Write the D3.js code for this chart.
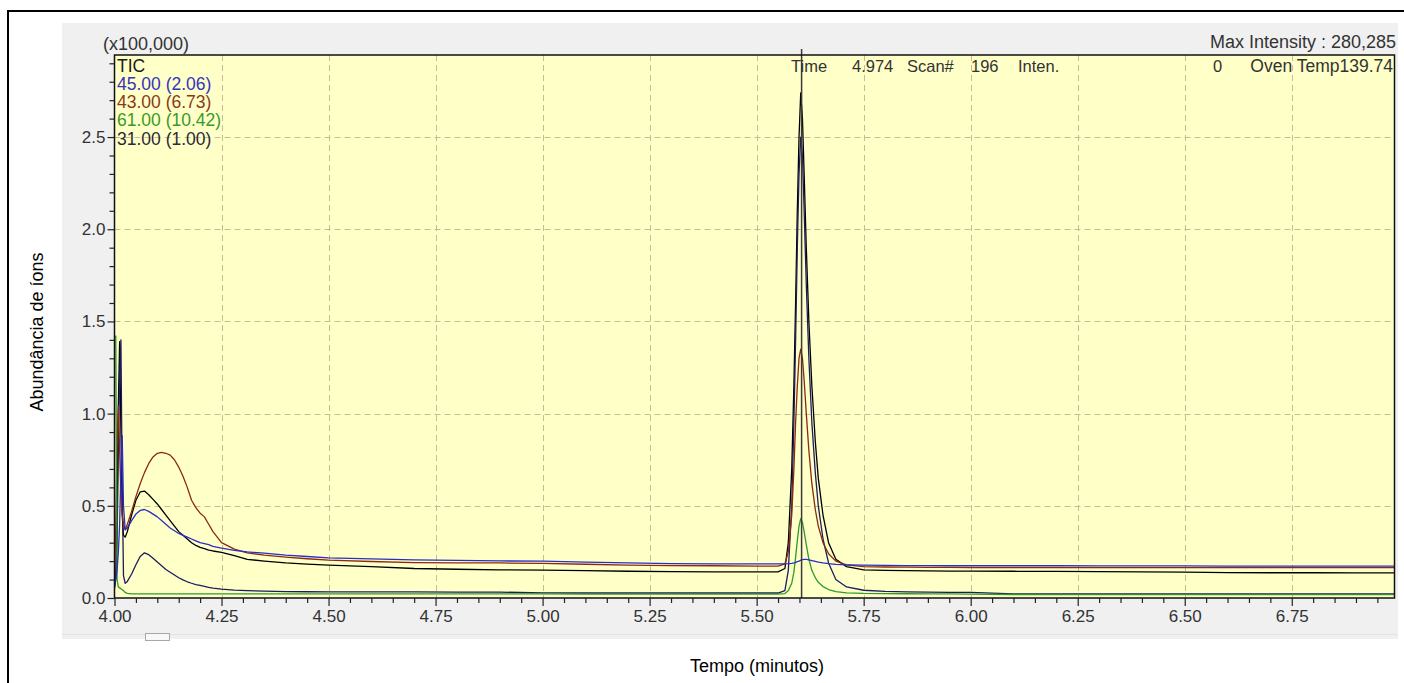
<!DOCTYPE html>
<html>
<head>
<meta charset="utf-8">
<script src="https://cdn.jsdelivr.net/npm/d3@7"></script>
<style>
  html, body { margin: 0; padding: 0; background: #ffffff; }
  svg { display: block; }
  text { font-family: "Liberation Sans", Arial, sans-serif; }
</style>
</head>
<body>
<svg id="chart" width="1404" height="683"></svg>
<script>
// Retention times (min) shared by every trace
const times = [
  4.000, 4.003, 4.006, 4.009, 4.012, 4.015, 4.018, 4.021, 4.025, 4.03,
  4.04, 4.05, 4.06, 4.07, 4.08, 4.09, 4.10, 4.11, 4.12, 4.13,
  4.14, 4.15, 4.16, 4.17, 4.18, 4.19, 4.20, 4.21, 4.22, 4.23,
  4.25, 4.28, 4.31, 4.35, 4.40, 4.45, 4.50, 4.60, 4.70, 4.80,
  4.90, 5.00, 5.10, 5.20, 5.30, 5.40, 5.50,
  5.55, 5.566, 5.574, 5.582, 5.587, 5.591, 5.595, 5.599, 5.603, 5.607,
  5.611, 5.616, 5.622, 5.629, 5.637, 5.644, 5.655, 5.668, 5.685, 5.71, 5.75,
  5.80, 5.85, 5.90, 5.95, 6.00, 6.10, 6.20, 6.30, 6.40, 6.50,
  6.60, 6.70, 6.80, 6.90, 6.99
];

// Intensities in units of 100,000 counts
const ticValues = [
  0.05, 0.12, 0.45, 1.05, 1.39, 0.9, 0.45, 0.34, 0.33, 0.36,
  0.45, 0.53, 0.575, 0.58, 0.56, 0.535, 0.51, 0.48, 0.45, 0.42,
  0.39, 0.36, 0.34, 0.32, 0.30, 0.285, 0.275, 0.268, 0.26, 0.255,
  0.248, 0.23, 0.21, 0.2, 0.19, 0.184, 0.178, 0.17, 0.16, 0.156,
  0.153, 0.151, 0.148, 0.145, 0.143, 0.142, 0.142,
  0.142, 0.16, 0.3, 0.7, 1.15, 1.6, 2.1, 2.5, 2.74, 2.6,
  2.3, 1.9, 1.5, 1.15, 0.85, 0.65, 0.45, 0.3, 0.21, 0.17, 0.152,
  0.15, 0.148, 0.147, 0.146, 0.146, 0.145, 0.144, 0.143, 0.142, 0.14,
  0.138, 0.137, 0.137, 0.136, 0.136
];
const mz45Values = [
  0.08, 0.1, 0.15, 0.25, 0.4, 0.7, 0.88, 0.5, 0.37, 0.38,
  0.42, 0.455, 0.475, 0.48, 0.47, 0.455, 0.44, 0.42, 0.40, 0.38,
  0.365, 0.35, 0.34, 0.33, 0.32, 0.31, 0.30, 0.295, 0.29, 0.28,
  0.27, 0.258, 0.25, 0.243, 0.232, 0.225, 0.218, 0.212, 0.207, 0.204,
  0.201, 0.2, 0.195, 0.19, 0.186, 0.185, 0.185,
  0.185, 0.185, 0.186, 0.188, 0.19, 0.193, 0.197, 0.2, 0.205, 0.208,
  0.21, 0.21, 0.207, 0.203, 0.198, 0.194, 0.19, 0.186, 0.182, 0.18, 0.178,
  0.177, 0.176, 0.176, 0.175, 0.175, 0.175, 0.175, 0.174, 0.174, 0.174,
  0.173, 0.173, 0.173, 0.173, 0.173
];
const mz43Values = [
  0.1, 0.4, 0.85, 1.04, 0.8, 0.55, 0.45, 0.4, 0.37, 0.4,
  0.47, 0.55, 0.62, 0.68, 0.73, 0.765, 0.785, 0.79, 0.785, 0.775,
  0.75, 0.71, 0.66, 0.6, 0.53, 0.49, 0.46, 0.44, 0.4, 0.36,
  0.3, 0.265, 0.245, 0.232, 0.222, 0.213, 0.205, 0.198, 0.192, 0.19,
  0.19, 0.188, 0.183, 0.178, 0.176, 0.175, 0.173,
  0.173, 0.185, 0.25, 0.45, 0.7, 0.95, 1.15, 1.3, 1.35, 1.3,
  1.18, 1.0, 0.8, 0.62, 0.48, 0.39, 0.3, 0.24, 0.2, 0.18, 0.17,
  0.168, 0.167, 0.166, 0.166, 0.165, 0.165, 0.165, 0.165, 0.165, 0.165,
  0.165, 0.165, 0.165, 0.165, 0.165
];
const mz61Values = [
  1.42, 1.42, 0.1, 0.06, 0.055, 0.05, 0.045, 0.04, 0.03, 0.025,
  0.022, 0.022, 0.022, 0.022, 0.022, 0.022, 0.022, 0.022, 0.022, 0.022,
  0.022, 0.022, 0.022, 0.022, 0.022, 0.022, 0.022, 0.022, 0.022, 0.022,
  0.022, 0.022, 0.022, 0.022, 0.022, 0.022, 0.022, 0.022, 0.022, 0.022,
  0.022, 0.022, 0.021, 0.021, 0.021, 0.021, 0.021,
  0.021, 0.024, 0.04, 0.08, 0.14, 0.22, 0.31, 0.39, 0.43, 0.41,
  0.36, 0.29, 0.21, 0.15, 0.11, 0.085, 0.062, 0.046, 0.035, 0.028, 0.025,
  0.024, 0.023, 0.022, 0.022, 0.021, 0.019, 0.018, 0.018, 0.018, 0.018,
  0.018, 0.018, 0.018, 0.018, 0.018
];
const mz31Values = [
  0.06, 0.1, 0.3, 0.8, 1.2, 1.40, 0.6, 0.12, 0.08, 0.09,
  0.13, 0.18, 0.225, 0.245, 0.235, 0.215, 0.195, 0.175, 0.155, 0.14,
  0.125, 0.11, 0.098, 0.088, 0.08, 0.073, 0.068, 0.063, 0.058, 0.054,
  0.048, 0.043, 0.04, 0.037, 0.035, 0.034, 0.033, 0.033, 0.033, 0.032,
  0.032, 0.028, 0.027, 0.027, 0.027, 0.027, 0.027,
  0.027, 0.04, 0.15, 0.5, 0.95, 1.4, 1.9, 2.3, 2.5, 2.4,
  2.1, 1.7, 1.3, 0.95, 0.68, 0.5, 0.32, 0.19, 0.1, 0.06, 0.042,
  0.036, 0.033, 0.032, 0.031, 0.03, 0.022, 0.022, 0.022, 0.022, 0.022,
  0.022, 0.022, 0.022, 0.022, 0.022
];

const seriesLabels = ["TIC", "45.00 (2.06)", "43.00 (6.73)", "61.00 (10.42)", "31.00 (1.00)"];
const seriesColors = ["#000000", "#2c2cc8", "#8a2a12", "#2f9a2a", "#1c1c60"];
const seriesValues = [ticValues, mz45Values, mz43Values, mz61Values, mz31Values];
const legendColors = ["#1a1a1a", "#3434c0", "#8a3a18", "#3a9a28", "#2a2a38"];

const xMajorTicks = [4.00, 4.25, 4.50, 4.75, 5.00, 5.25, 5.50, 5.75, 6.00, 6.25, 6.50, 6.75];
const yMajorTicks = [0.0, 0.5, 1.0, 1.5, 2.0, 2.5];
const xMinorTicks = [4.05, 4.10, 4.15, 4.20, 4.30, 4.35, 4.40, 4.45, 4.55, 4.60, 4.65, 4.70,
  4.80, 4.85, 4.90, 4.95, 5.05, 5.10, 5.15, 5.20, 5.30, 5.35, 5.40, 5.45, 5.55, 5.60, 5.65, 5.70,
  5.80, 5.85, 5.90, 5.95, 6.05, 6.10, 6.15, 6.20, 6.30, 6.35, 6.40, 6.45, 6.55, 6.60, 6.65, 6.70,
  6.80, 6.85, 6.90, 6.95];
const yMinorTicks = [0.1, 0.2, 0.3, 0.4, 0.6, 0.7, 0.8, 0.9, 1.1, 1.2, 1.3, 1.4, 1.6, 1.7, 1.8, 1.9,
  2.1, 2.2, 2.3, 2.4, 2.6, 2.7, 2.8, 2.9];

const cursorTime = 5.605;
const headerItems = [
  ["Time", 791], ["4.974", 852], ["Scan#", 907], ["196", 971], ["Inten.", 1018], ["0", 1213]
];

const svg = d3.select("#chart");
const plot = { left: 114.5, right: 1394.5, top: 55, bottom: 598 };

const x = d3.scaleLinear().domain([4.0, 6.99]).range([plot.left, plot.right]);
const y = d3.scaleLinear().domain([0, 2.945]).range([plot.bottom, plot.top]);

// outer frame (left and top edges fall inside the page)
svg.append("rect").attr("x", 8).attr("y", 11).attr("width", 1420).attr("height", 700)
  .attr("fill", "#ffffff").attr("stroke", "#000").attr("stroke-width", 2);

// grey instrument panel
svg.append("rect").attr("x", 62).attr("y", 23).attr("width", 1336).attr("height", 616)
  .attr("fill", "#f0f0f0");
svg.append("line").attr("x1", 62).attr("x2", 1398).attr("y1", 634.5).attr("y2", 634.5)
  .attr("stroke", "#e2e2e2");
svg.append("rect").attr("x", 145.5).attr("y", 633.5).attr("width", 24).attr("height", 7)
  .attr("fill", "#f8f8f8").attr("stroke", "#a8a8a8");

// plot background
svg.append("rect").attr("x", plot.left).attr("y", plot.top)
  .attr("width", plot.right - plot.left).attr("height", plot.bottom - plot.top)
  .attr("fill", "#ffffc8");

// dashed grid
const grid = svg.append("g").attr("stroke", "#c9bb98").attr("stroke-width", 1)
  .attr("stroke-dasharray", "6,4");
grid.selectAll("line.v").data(xMajorTicks.slice(1)).join("line")
  .attr("x1", d => Math.round(x(d)) + 0.5).attr("x2", d => Math.round(x(d)) + 0.5)
  .attr("y1", plot.top).attr("y2", plot.bottom);
grid.selectAll("line.h").data(yMajorTicks.slice(1)).join("line")
  .attr("y1", d => Math.round(y(d)) + 0.5).attr("y2", d => Math.round(y(d)) + 0.5)
  .attr("x1", plot.left).attr("x2", plot.right);

// traces
svg.append("clipPath").attr("id", "plotClip").append("rect")
  .attr("x", plot.left).attr("y", plot.top)
  .attr("width", plot.right - plot.left).attr("height", plot.bottom - plot.top);

const line = d3.line().x((d, i) => x(times[i])).y(d => y(d)).curve(d3.curveLinear);
const drawOrder = [0, 4, 2, 3, 1];
const traces = svg.append("g").attr("clip-path", "url(#plotClip)");
drawOrder.forEach(k => {
  traces.append("path").datum(seriesValues[k])
    .attr("d", line)
    .attr("fill", "none")
    .attr("stroke", seriesColors[k])
    .attr("stroke-width", 1.3)
    .attr("stroke-linejoin", "round");
});

// cursor line
svg.append("line").attr("x1", x(cursorTime)).attr("x2", x(cursorTime))
  .attr("y1", 49).attr("y2", plot.bottom)
  .attr("stroke", "#3a3a3a").attr("stroke-width", 1.5);

// plot frame
svg.append("rect").attr("x", plot.left).attr("y", plot.top)
  .attr("width", plot.right - plot.left).attr("height", plot.bottom - plot.top)
  .attr("fill", "none").attr("stroke", "#111").attr("stroke-width", 1.5);

// axes
const tickFont = "17px";
const yAxisMajor = d3.axisLeft(y).tickValues(yMajorTicks).tickSize(7).tickPadding(2)
  .tickFormat(d3.format(".1f"));
const yAxisMinor = d3.axisLeft(y).tickValues(yMinorTicks).tickSize(5).tickFormat("");
const xAxisMajor = d3.axisBottom(x).tickValues(xMajorTicks).tickSize(8).tickPadding(4)
  .tickFormat(d3.format(".2f"));
const xAxisMinor = d3.axisBottom(x).tickValues(xMinorTicks).tickSize(5).tickFormat("");

function styleAxis(g) {
  g.select(".domain").remove();
  g.selectAll("line").attr("stroke", "#222").attr("stroke-width", 1.2);
  g.selectAll("text").attr("fill", "#333").style("font-size", tickFont)
    .style("font-family", "'Liberation Sans', Arial, sans-serif");
}
svg.append("g").attr("transform", `translate(${plot.left},0)`).call(yAxisMinor).call(styleAxis);
svg.append("g").attr("transform", `translate(${plot.left},0)`).call(yAxisMajor).call(styleAxis);
svg.append("g").attr("transform", `translate(0,${plot.bottom})`).call(xAxisMinor).call(styleAxis);
svg.append("g").attr("transform", `translate(0,${plot.bottom})`).call(xAxisMajor).call(styleAxis);

// legend inside the plot
svg.append("g").selectAll("text").data(seriesLabels).join("text")
  .attr("x", 117).attr("y", (d, i) => 71.5 + i * 18.3)
  .attr("fill", (d, i) => legendColors[i])
  .style("font-size", "17.5px")
  .text(d => d);

// header texts
svg.append("text").attr("x", 103).attr("y", 50).attr("fill", "#333")
  .style("font-size", "18px").text("(x100,000)");
svg.append("text").attr("x", 1396).attr("y", 48).attr("text-anchor", "end").attr("fill", "#333")
  .style("font-size", "18px").text("Max Intensity : 280,285");
svg.append("g").selectAll("text").data(headerItems).join("text")
  .attr("x", d => d[1]).attr("y", 71.5).attr("fill", "#333").style("font-size", "16.5px")
  .text(d => d[0]);
svg.append("text").attr("x", 1393).attr("y", 71.5).attr("text-anchor", "end").attr("fill", "#333")
  .style("font-size", "17.5px").text("Oven Temp139.74");

// axis titles
svg.append("text").attr("x", 757).attr("y", 672).attr("text-anchor", "middle")
  .attr("fill", "#000").style("font-size", "18px").text("Tempo (minutos)");
svg.append("text").attr("transform", "translate(43,332) rotate(-90)")
  .attr("text-anchor", "middle").attr("fill", "#000").style("font-size", "18px")
  .text("Abundância de íons");
</script>
</body>
</html>
